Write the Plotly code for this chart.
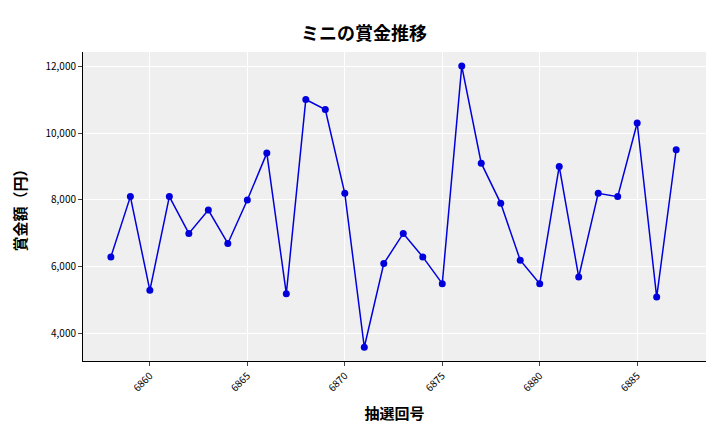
import plotly.graph_objects as go

draws = list(range(6858, 6888))
prizes = [6300, 8100, 5300, 8100, 7000, 7700, 6700, 8000, 9400, 5200,
          11000, 10700, 8200, 3600, 6100, 7000, 6300, 5500, 12000, 9100,
          7900, 6200, 5500, 9000, 5700, 8200, 8100, 10300, 5100, 9500]

fig = go.Figure(go.Scatter(x=draws, y=prizes, mode="lines+markers",
                           line=dict(color="#0000dd", width=1.5),
                           marker=dict(color="#0000dd", size=7)))
font = "Noto Sans CJK JP"
fig.update_layout(
    width=712, height=424, paper_bgcolor="white", plot_bgcolor="#efefef",
    margin=dict(l=73, r=14, t=44, b=64),
    font=dict(family=font, size=10, color="black"),
    title=dict(text="<b>ミニの賞金推移</b>", x=0.5, xanchor="center", y=0.955,
               font=dict(size=18, family=font)),
    showlegend=False,
)
fig.update_xaxes(range=[6856.57, 6888.53], tickvals=[6860, 6865, 6870, 6875, 6880, 6885],
                 tickangle=-45, gridcolor="white", showline=True, linecolor="black",
                 ticks="outside", ticklen=4, title=dict(text="<b>抽選回号</b>", font=dict(size=15)))
fig.update_yaxes(range=[3190, 12420], tickvals=[4000, 6000, 8000, 10000, 12000],
                 tickformat=",", gridcolor="white", showline=True, linecolor="black",
                 ticks="outside", ticklen=4, title=dict(text="<b>賞金額（円）</b>", font=dict(size=15)))
fig.write_html("out.html")
